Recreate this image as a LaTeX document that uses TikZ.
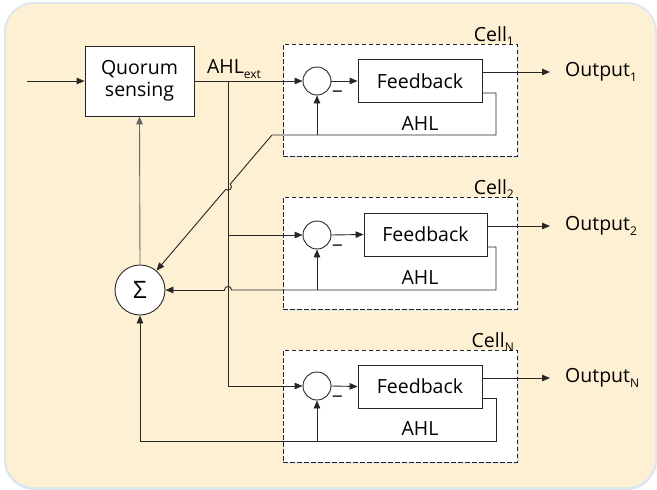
\documentclass[tikz,border=0pt]{standalone}
\usepackage{fontspec}
\setmainfont{Open Sans}
\usetikzlibrary{arrows.meta}
\definecolor{bgc}{HTML}{FEF1D3}
\definecolor{bgedge}{HTML}{DCE6F0}
\definecolor{lnc}{HTML}{262626}
\definecolor{shd}{HTML}{E4E8EC}
\newcommand\mysub[1]{\raisebox{-0.25em}{\fontsize{12}{12}\selectfont #1}}
\begin{document}
\begin{tikzpicture}[x=1pt,y=-1pt,
  font=\fontsize{19.5}{23}\selectfont,
  ln/.style={draw=lnc, line width=0.9pt},
  arr/.style={ln, -{Triangle[length=8pt,width=6.5pt]}},
  blk/.style={draw=lnc, line width=0.9pt, fill=white, inner sep=0pt},
  sumc/.style={circle, draw=lnc, line width=0.9pt, fill=white, inner sep=0pt},
  cellbox/.style={draw=lnc, line width=0.8pt, dash pattern=on 4.5pt off 2.5pt, fill=white, inner sep=0pt, minimum width=234pt, minimum height=112pt},
  lbl/.style={inner sep=1pt}
]
\useasboundingbox (0,0) rectangle (657,490);
% background
\fill[bgedge, rounded corners=30pt] (4,2) rectangle (657,490);
\fill[bgc, rounded corners=28pt] (6,4) rectangle (655,487);

% cells
\fill[shd] (285,46) rectangle (519,158);
\fill[shd] (285,199) rectangle (519,311);
\fill[shd] (285,352) rectangle (519,464);
\node[cellbox] (cell1) at (400,100) {};
\node[cellbox] (cell2) at (400,253) {};
\node[cellbox] (cellN) at (400,406) {};
\node[lbl, anchor=base east] at (515,41) {Cell\mysub{1}};
\node[lbl, anchor=base east] at (515,194) {Cell\mysub{2}};
\node[lbl, anchor=base east] at (515,347) {Cell\mysub{N}};

% blocks
\node[blk, minimum width=109pt, minimum height=70pt, align=center] (quorum) at (139.5,81) {Quorum\\[-1pt]sensing};
\node[sumc, minimum size=50pt] (sigma) at (140,290) {\fontsize{24}{24}\selectfont Σ};

\node[sumc, minimum size=28pt] (c1) at (317,81) {};
\node[sumc, minimum size=28pt] (c2) at (317,235) {};
\node[sumc, minimum size=28pt] (cN) at (317,386) {};

\node[blk, minimum width=124pt, minimum height=43pt] (fb1) at (420,81) {Feedback};
\node[blk, minimum width=123pt, minimum height=43pt] (fb2) at (425.5,234.5) {Feedback};
\node[blk, minimum width=124pt, minimum height=43pt] (fbN) at (420,386.5) {Feedback};

% minus signs
\node[lbl] at (337.5,95) {−};
\node[lbl] at (337.5,249) {−};
\node[lbl] at (337.5,400) {−};

% coordinates
\coordinate (in) at (27,81);
\coordinate (br1) at (228,81);
\coordinate (br2) at (228,235);
\coordinate (brN) at (228,386);
\coordinate (o1) at (550,72);
\coordinate (o2) at (550,226);
\coordinate (oN) at (550,378);

% input / quorum output
\draw[arr] (in) -- (quorum.west);
\draw[arr] (quorum.east) -- (c1.west);
\node[lbl] at (234,69) {AHL\mysub{ext}};
\draw[ln] (br1) -- (brN);
\draw[arr] (brN) -- (cN.west);
\draw[arr] (br2) -- (c2.west);

% feedback forward
\draw[arr] (c1.east) -- (fb1.west);
\draw[arr] (c2.east) -- (fb2.west);
\draw[arr] (cN.east) -- (fbN.west);

% outputs
\draw[arr] (fb1.east |- o1) -- (o1);
\draw[arr] (fb2.east |- o2) -- (o2);
\draw[arr] (fbN.east |- oN) -- (oN);
\node[lbl, anchor=west] at (564,72) {Output\mysub{1}};
\node[lbl, anchor=west] at (564,226) {Output\mysub{2}};
\node[lbl, anchor=west] at (564,378) {Output\mysub{N}};

% loop cell 1
\coordinate (l1a) at (496,93);
\coordinate (l1b) at (496,135);
\coordinate (l1c) at (317,135);
\coordinate (l1d) at (272,135);
\draw[ln] (fb1.east |- l1a) -- (l1a) -- (l1b) -- (l1d)
  -- (230.27,184.04) .. controls (233.7,186.96) and (229.15,192.28) .. (225.73,189.36);
\draw[arr] (225.73,189.36) -- (sigma);
\draw[arr] (l1c) -- (c1.south);
\node[lbl] at (420,124) {AHL};

% loop cell 2
\coordinate (l2a) at (496,247);
\coordinate (l2b) at (496,290);
\coordinate (l2c) at (317,290);
\draw[ln] (fb2.east |- l2a) -- (l2a) -- (l2b) -- (231.5,290) .. controls (231.5,285.3) and (224.5,285.3) .. (224.5,290);
\draw[arr] (224.5,290) -- (sigma.east);
\draw[arr] (l2c) -- (c2.south);
\node[lbl] at (420,278) {AHL};

% loop cell N
\coordinate (lNa) at (496,398);
\coordinate (lNb) at (496,441);
\coordinate (lNc) at (317,441);
\coordinate (lNd) at (140,441);
\draw[ln] (fbN.east |- lNa) -- (lNa) -- (lNb) -- (lNd);
\draw[arr] (lNd) -- (sigma.south);
\draw[arr] (lNc) -- (cN.south);
\node[lbl] at (420,429) {AHL};

% sigma to quorum
\draw[arr, draw=black!60] (sigma.north) -- (quorum.south);
\end{tikzpicture}
\end{document}
